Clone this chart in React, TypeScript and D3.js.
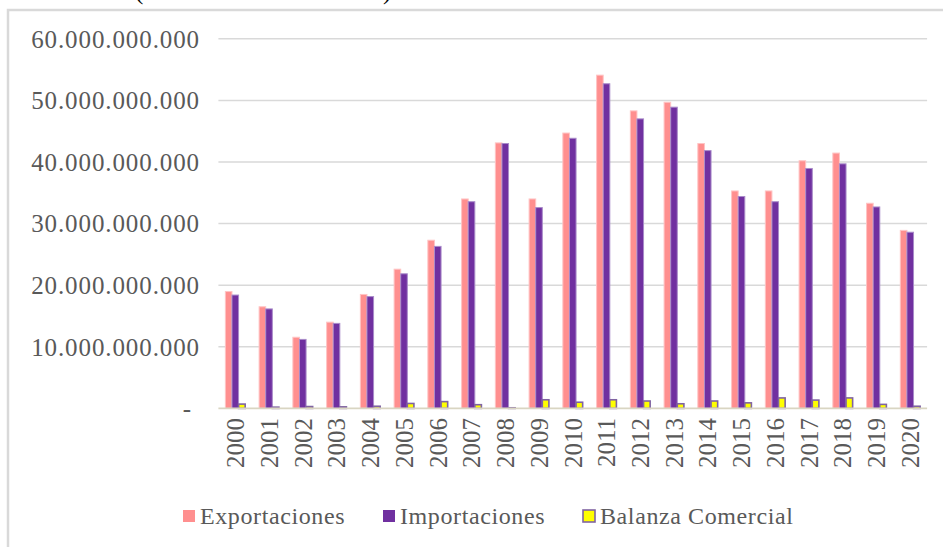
import React from "react";
import * as d3 from "d3";

const years = ["2000","2001","2002","2003","2004","2005","2006","2007","2008","2009","2010","2011","2012","2013","2014","2015","2016","2017","2018","2019","2020"];
// values in billions (x 1e9)
const exportaciones = [18.97, 16.5, 11.55, 14.0, 18.5, 22.6, 27.3, 34.0, 43.1, 34.0, 44.7, 54.1, 48.3, 49.7, 43.0, 35.3, 35.3, 40.2, 41.45, 33.3, 28.9];
const importaciones = [18.4, 16.15, 11.2, 13.8, 18.15, 21.85, 26.3, 33.55, 43.0, 32.6, 43.85, 52.7, 47.0, 48.9, 41.85, 34.4, 33.55, 38.95, 39.7, 32.7, 28.6];
const balanza = [0.7, 0.2, 0.3, 0.25, 0.35, 0.8, 1.1, 0.6, 0.1, 1.4, 1.0, 1.4, 1.2, 0.75, 1.2, 0.9, 1.7, 1.35, 1.7, 0.65, 0.35];
const yTicks = [0, 10e9, 20e9, 30e9, 40e9, 50e9, 60e9];
const seriesNames = ["Exportaciones", "Importaciones", "Balanza Comercial"];

const fills = ["#FF8F8F", "#7030A0", "#FFFF00"];
const strokes = ["#FFC4C4", "#A98BC9", "#8064A2"];
const strokeW = [1, 1, 1.6];

const locale = d3.formatLocale({ decimal: ",", thousands: ".", grouping: [3], currency: ["$", ""] });
const fmt = locale.format(",.0f");

const FONT = "'Liberation Serif', 'Times New Roman', serif";

export default function App() {
  const W = 943, H = 547;
  const x = d3.scaleBand<string>().domain(years).range([218.4, 927.1]).paddingInner(0.413).paddingOuter(0.2065);
  const xs = d3.scaleBand<number>().domain([0, 1, 2]).range([0, x.bandwidth()]);
  const y = d3.scaleLinear().domain([0, 60e9]).range([408.4, 38.8]);
  const data = [exportaciones, importaciones, balanza];

  return (
    <div style={{ position: "fixed", left: 0, top: 0 }}>
      <svg width={W} height={H} style={{ display: "block", background: "#fff" }}>
        {/* partial title above the chart frame */}
        <text x={135} y={-1} fontFamily={FONT} fontSize={25} fill="#000">(</text>
        <text x={383} y={-1} fontFamily={FONT} fontSize={25} fill="#000">)</text>
        {/* chart frame */}
        <rect x={8} y={10} width={W + 20} height={H + 20} fill="#fff" stroke="#D9D9D9" strokeWidth={2.5} />
        {/* gridlines */}
        {yTicks.filter(t => t > 0).map(t => (
          <line key={t} x1={218.4} x2={927.1} y1={y(t)} y2={y(t)} stroke="#D9D9D9" strokeWidth={1.5} />
        ))}
        {/* y labels */}
        {yTicks.map(t => (
          <text key={"l" + t} x={t === 0 ? 191 : 200} y={y(t)} dy="0.35em" textAnchor="end"
            fontFamily={FONT} fontSize={25} letterSpacing={t === 0 ? 0 : 0.9} fill="#595959">{t === 0 ? "-" : fmt(t)}</text>
        ))}
        {/* bars */}
        {data.map((vals, s) => (
          <g key={s}>
            {vals.map((v, i) => {
              const x0 = (x(years[i]) as number) + (xs(s) as number);
              const yv = y(v * 1e9);
              return (
                <rect key={i} x={x0} y={yv} width={xs.bandwidth()} height={y(0) - yv}
                  fill={fills[s]} stroke={strokes[s]} strokeWidth={strokeW[s]} />
              );
            })}
          </g>
        ))}
        {/* axis line */}
        <line x1={218.4} x2={927.1} y1={y(0)} y2={y(0)} stroke="#D9D5C2" strokeWidth={1.6} />
        {/* x labels */}
        {years.map(yr => {
          const cx = (x(yr) as number) + x.bandwidth() / 2;
          return (
            <text key={yr} transform={`translate(${cx},418) rotate(-90)`} dy="0.35em" textAnchor="end"
              fontFamily={FONT} fontSize={25} fill="#595959">{yr}</text>
          );
        })}
        {/* legend */}
        {seriesNames.map((n, i) => {
          const lx = [183, 383, 583][i];
          return (
            <g key={n}>
              <rect x={lx} y={510} width={12} height={12} fill={fills[i]}
                stroke={i === 2 ? strokes[2] : "none"} strokeWidth={1.6} />
              <text x={lx + 17} y={516} dy="0.35em" fontFamily={FONT} fontSize={24} letterSpacing={0.6} fill="#595959">{n}</text>
            </g>
          );
        })}
      </svg>
    </div>
  );
}
